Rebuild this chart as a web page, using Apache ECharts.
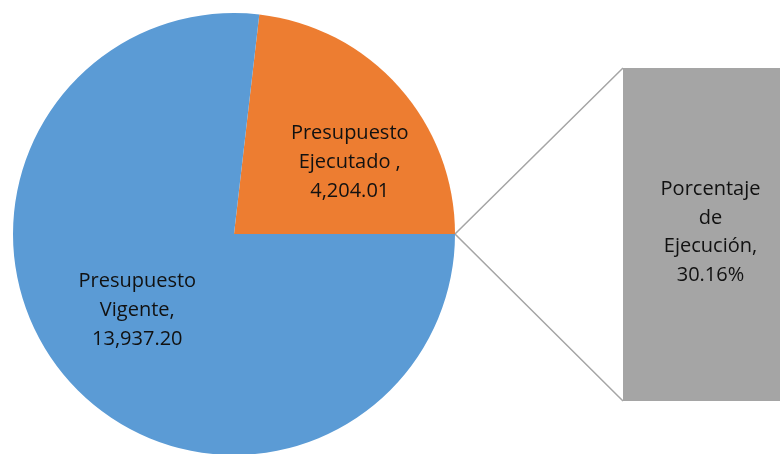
<!DOCTYPE html>
<html>
<head>
<meta charset="utf-8">
<script src="https://cdn.jsdelivr.net/npm/echarts@6/dist/echarts.min.js"></script>
<style>
  html, body { margin: 0; padding: 0; background: #fff; }
  #chart { width: 780px; height: 454px; }
</style>
</head>
<body>
<div id="chart"></div>
<script>
// datos
const pieNames = ['Presupuesto\nEjecutado ,', 'Presupuesto\nVigente,']
const pieValues = [4204.01, 13937.2]
const pieLabels = ['4,204.01', '13,937.20']
const barNames = ['Porcentaje\nde\nEjecución,']
const barValues = [30.16]
const barLabels = ['30.16%']

const font = 'Open Sans'
const cx = 234
const cy = 234
const r = 221
const grid = { left: 623, top: 68, right: 0, bottom: 53 }

const total = pieValues[0] + pieValues[1]
const startAngle = (360 * pieValues[0]) / total

const chart = echarts.init(document.getElementById('chart'))

const option = {
  animation: false,
  grid: grid,
  xAxis: { type: 'category', data: barNames, show: false },
  yAxis: { type: 'value', min: 0, max: barValues[0], show: false },
  series: [
    {
      type: 'pie',
      center: [cx, cy],
      radius: [0, r],
      startAngle: startAngle,
      clockwise: true,
      silent: true,
      itemStyle: { borderWidth: 0 },
      label: {
        position: 'inside',
        color: '#111',
        fontFamily: font,
        fontSize: 20,
        lineHeight: 29,
        align: 'center',
        formatter: (p) => p.name + '\n' + pieLabels[p.dataIndex],
      },
      labelLine: { show: false },
      data: [
        {
          name: pieNames[0],
          value: pieValues[0],
          itemStyle: { color: '#ED7D31' },
          label: { offset: [31, 4] },
        },
        {
          name: pieNames[1],
          value: pieValues[1],
          itemStyle: { color: '#5B9BD5' },
          label: { offset: [-12, 1] },
        },
      ],
    },
    {
      type: 'bar',
      barWidth: '100%',
      silent: true,
      itemStyle: { color: '#A5A5A5' },
      label: {
        show: true,
        position: 'inside',
        offset: [9, -2],
        color: '#111',
        fontFamily: font,
        fontSize: 20,
        lineHeight: 28.5,
        align: 'center',
        formatter: (p) => p.name + '\n' + barLabels[p.dataIndex],
      },
      data: barValues,
    },
  ],
}
chart.setOption(option)

// lineas de conexion entre la torta y la barra
const x0 = cx + r
const y0 = cy
const barTop = grid.top
const barBottom = 454 - grid.bottom
chart.setOption({
  graphic: [
    {
      type: 'polyline',
      silent: true,
      shape: { points: [[grid.left, barTop], [x0, y0], [grid.left, barBottom]] },
      style: { stroke: '#A5A5A5', lineWidth: 1.5, fill: null },
    },
  ],
})
</script>
</body>
</html>
